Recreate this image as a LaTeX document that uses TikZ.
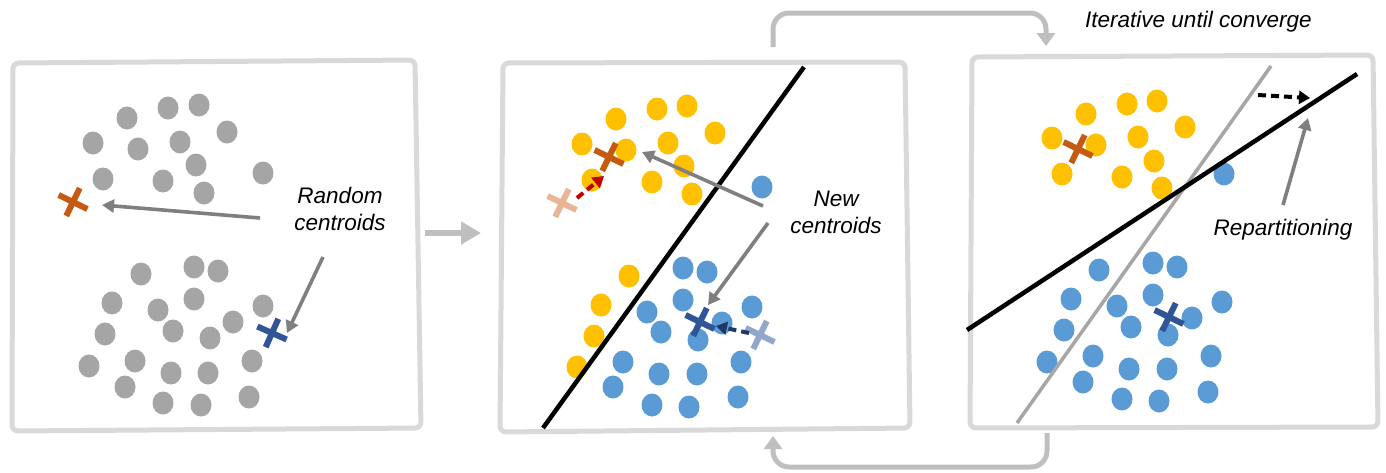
\documentclass[tikz,border=0pt]{standalone}
\usepackage{fontspec}
\setmainfont{Liberation Sans}
\usetikzlibrary{arrows.meta}
\definecolor{framegray}{HTML}{D9D9D9}
\definecolor{flowgray}{HTML}{BFBFBF}
\definecolor{dotgray}{HTML}{A5A5A5}
\definecolor{dotyellow}{HTML}{FFC000}
\definecolor{dotblue}{HTML}{5B9BD5}
\definecolor{crossorange}{HTML}{C55A11}
\definecolor{crossblue}{HTML}{2F5597}
\definecolor{lightorange}{HTML}{E8B596}
\definecolor{lightblue}{HTML}{93A7CC}
\definecolor{pointergray}{HTML}{7F7F7F}
\definecolor{oldline}{HTML}{A6A6A6}
\definecolor{darkred}{HTML}{C00000}
\definecolor{navy}{HTML}{1F3864}
\newcommand\mycross[4]{%
  \begin{scope}[shift={(#1,#2)},rotate=#3]
    \draw[#4,line width=6pt] (-16,0) -- (16,0) (0,-15.5) -- (0,15.5);
  \end{scope}}
\begin{document}
\begin{tikzpicture}[x=1pt,y=-1pt,
  panelframe/.style={draw=framegray,line width=5pt,rounded corners=6pt,fill=white},
  flowarrow/.style={draw=flowgray,line width=5pt,rounded corners=16pt,-{Triangle[width=18pt,length=13pt]}},
  pointer/.style={draw=pointergray,line width=3.6pt,-{Triangle[width=13pt,length=12pt]}},
  moveptr/.style={line width=4pt,dash pattern=on 8pt off 5pt,-{Triangle[width=13pt,length=11pt]}},
  lbl/.style={font=\itshape\fontsize{22.5}{27}\selectfont,align=center,inner sep=0pt},
  gdot/.style={fill=dotgray},
  ydot/.style={fill=dotyellow},
  bdot/.style={fill=dotblue}]
\useasboundingbox (0,0) rectangle (1386,472);

% ---------- frames ----------
\draw[panelframe] (13,63) -- (415,60) -- (421,428) -- (12,431) -- cycle;
\draw[panelframe] (503,63) -- (905,62) -- (910,428) -- (500,432) -- cycle;
\draw[panelframe] (972,57) -- (1373,55) -- (1378,427) -- (970,428) -- cycle;

% ---------- panel 1 ----------
\foreach \x/\y in {127/118,168/108,199/105,227/132,93/143,138/149,180/142,196/165,103/179,163/181,204/193,263/173,
  141/274,194/267,218/271,112/303,158/310,194/299,263/306,105/334,173/331,210/338,233/322,
  89/366,135/361,171/373,208/373,252/361,125/387,163/403,201/405,249/397}
  \fill[gdot] (\x,\y) ellipse [x radius=10.5,y radius=11.5];
\mycross{73}{202}{-26}{crossorange}
\mycross{272}{333}{-24}{crossblue}
\node[lbl,anchor=base] (rc) at (340,230) {Random\\centroids};
\coordinate (rcA) at (260,218); \coordinate (oc1) at (102,205);
\coordinate (rcB) at (323,257); \coordinate (bc1) at (287,333);
\draw[pointer] (rcA) -- (oc1);
\draw[pointer] (rcB) -- (bc1);

% ---------- step arrow ----------
\coordinate (s1) at (425,233); \coordinate (s2) at (481,233);
\draw[draw=flowgray,line width=6pt,-{Triangle[width=22pt,length=20pt]}] (s1) -- (s2);

% ---------- panel 2 ----------
\foreach \x/\y in {616/119,657/109,687/106,715/133,582/144,626/150,668/143,684/166,592/180,652/182,692/194,
  629/276,601/305,594/336,577/367}
  \fill[ydot] (\x,\y) ellipse [x radius=10.5,y radius=11.5];
\foreach \x/\y in {762/187,683/268,707/272,683/300,647/312,752/307,661/332,722/323,698/340,
  623/362,741/362,659/374,697/374,613/387,652/405,689/407,738/397}
  \fill[bdot] (\x,\y) ellipse [x radius=10.5,y radius=11.5];
\coordinate (b2a) at (543,428); \coordinate (b2b) at (804,67);
\draw[line width=4.5pt] (b2a) -- (b2b);
\mycross{562}{203}{-26}{lightorange}
\mycross{760}{335}{-26}{lightblue}
\mycross{609}{157}{-26}{crossorange}
\mycross{700}{322}{-26}{crossblue}
\coordinate (ro1) at (577,198); \coordinate (ro2) at (604,176);
\draw[moveptr,darkred] (ro1) -- (ro2);
\coordinate (nb1) at (749,333); \coordinate (nb2) at (716,326);
\draw[moveptr,navy] (nb1) -- (nb2);
\node[lbl,anchor=base] (nc) at (836,233) {New\\centroids};
\coordinate (ncA) at (763,206); \coordinate (oc2) at (642,152);
\coordinate (ncB) at (768,223); \coordinate (bc2) at (708,305);
\draw[pointer] (ncA) -- (oc2);
\draw[pointer] (ncB) -- (bc2);

% ---------- panel 3 ----------
\foreach \x/\y in {1086/114,1127/104,1157/101,1185/127,1052/138,1096/145,1138/137,1154/161,1062/174,1122/177,1162/188}
  \fill[ydot] (\x,\y) ellipse [x radius=10.5,y radius=11.5];
\foreach \x/\y in {1224/174,1099/270,1153/263,1177/267,1071/299,1153/295,1117/306,1222/302,1064/330,1131/327,
  1192/318,1168/335,1047/362,1093/356,1211/356,1129/369,1167/369,1083/382,1122/399,1159/401,1208/392}
  \fill[bdot] (\x,\y) ellipse [x radius=10.5,y radius=11.5];
\coordinate (g3a) at (1017,423); \coordinate (g3b) at (1271,66);
\draw[draw=oldline,line width=3.5pt] (g3a) -- (g3b);
\coordinate (b3a) at (967,330); \coordinate (b3b) at (1357,74);
\draw[line width=4.5pt] (b3a) -- (b3b);
\mycross{1078}{149}{-26}{crossorange}
\mycross{1169}{317}{-26}{crossblue}
\coordinate (mv1) at (1258,95); \coordinate (mv2) at (1310,98);
\draw[moveptr,black] (mv1) -- (mv2);
\node[lbl,anchor=base] (rp) at (1283,235) {Repartitioning};
\coordinate (rpA) at (1283,205); \coordinate (rpB) at (1308,118);
\draw[pointer] (rpA) -- (rpB);

% ---------- iteration loop ----------
\node[lbl,anchor=base west] (it) at (1085,27) {Iterative until converge};
\coordinate (t1) at (773,47); \coordinate (t2) at (1046,46);
\draw[flowarrow] (t1) -- (773,13) -- (1046,13) -- (t2);
\coordinate (u1) at (1047,433); \coordinate (u2) at (773,436);
\draw[flowarrow] (u1) -- (1047,467) -- (773,467) -- (u2);
\end{tikzpicture}
\end{document}
